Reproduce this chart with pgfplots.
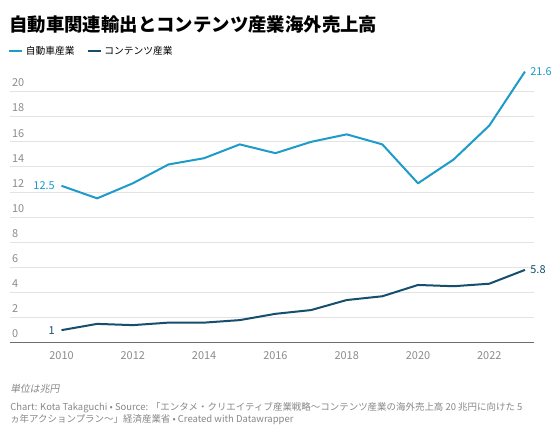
\documentclass[border=0pt]{standalone}
\usepackage{pgfplots}
\pgfplotsset{compat=1.18}
\usepackage{fontspec}
\setmainfont{Noto Sans CJK JP}
\newfontfamily\slantcjk[FakeSlant=0.18]{Noto Sans CJK JP}

\definecolor{autoblue}{HTML}{1D9BC9}
\definecolor{contentnavy}{HTML}{164F6E}
\definecolor{gridgray}{HTML}{E3E3E3}
\definecolor{basegray}{HTML}{6E6E6E}
\definecolor{ticktext}{HTML}{8C8C8C}
\definecolor{notetext}{HTML}{888888}

\newcommand{\fs}[1]{\fontsize{#1}{#1}\selectfont}

\begin{document}
\begin{tikzpicture}[x=0.75pt,y=0.75pt]
  % canvas (1 unit = 1 screen pixel)
  \path[use as bounding box, fill=white] (0,0) rectangle (560,437);

  % title
  \node[anchor=west, inner sep=0pt, font=\bfseries\fs{13.8pt}] at (9,412)
    {自動車関連輸出とコンテンツ産業海外売上高};

  \begin{axis}[
    at={(7.5pt,70.725pt)}, anchor=south west,
    width=393pt, height=207.1pt, scale only axis,
    xmin=2008.555, xmax=2023.254,
    ymin=0, ymax=22,
    clip=false,
    axis line style={draw=none},
    major tick length=0pt,
    xtick={2010,2012,...,2022},
    ytick={2,4,...,20},
    extra y ticks={0},
    extra y tick style={grid style={color=basegray, line width=1.1pt}},
    ymajorgrids,
    grid style={color=gridgray, line width=0.75pt},
    /pgf/number format/assume math mode=true,
    xticklabel style={/pgf/number format/1000 sep={}, font=\fs{8.2pt}, text=ticktext, yshift=-3pt},
    yticklabel style={anchor=south west, font=\fs{8.2pt}, text=ticktext, xshift=-2pt, yshift=0pt},
    legend style={
      at={(-0.004,1.0565)}, anchor=west,
      draw=none, fill=none,
      legend columns=-1,
      font=\fs{7.3pt},
      /tikz/every even column/.append style={column sep=7pt},
      inner sep=0pt,
    },
    legend image code/.code={\draw[#1, line width=1.6pt] (0pt,0pt) -- (9.75pt,0pt);},
  ]
    % automotive-related exports (trillion yen)
    \addplot[autoblue, line width=1.5pt, line join=round] coordinates {
      (2010,12.5) (2011,11.5) (2012,12.7) (2013,14.2) (2014,14.7)
      (2015,15.8) (2016,15.1) (2017,16.0) (2018,16.6) (2019,15.8)
      (2020,12.7) (2021,14.6) (2022,17.3) (2023,21.6)
    }
    node[pos=0, anchor=east, font=\fs{8.2pt}, text=autoblue, xshift=-1pt] {12.5}
    node[pos=1, anchor=west, font=\fs{8.2pt}, text=autoblue, xshift=0pt] {21.6};
    \addlegendentry{自動車産業}

    % overseas sales of content industry (trillion yen)
    \addplot[contentnavy, line width=1.5pt, line join=round] coordinates {
      (2010,1.0) (2011,1.5) (2012,1.4) (2013,1.6) (2014,1.6)
      (2015,1.8) (2016,2.3) (2017,2.6) (2018,3.4) (2019,3.7)
      (2020,4.6) (2021,4.5) (2022,4.7) (2023,5.8)
    }
    node[pos=0, anchor=east, font=\fs{8.2pt}, text=contentnavy, xshift=-1pt] {1}
    node[pos=1, anchor=west, font=\fs{8.2pt}, text=contentnavy, xshift=0pt] {5.8};
    \addlegendentry{コンテンツ産業}
  \end{axis}

  % notes
  \node[anchor=west, inner sep=0pt, text=notetext, font=\slantcjk\fs{7.4pt}] at (10,48)
    {単位は兆円};
  \node[anchor=west, inner sep=0pt, text=notetext, font=\fs{7.1pt}] at (10,29)
    {Chart: Kota Takaguchi • Source: 「エンタメ・クリエイティブ産業戦略〜コンテンツ産業の海外売上高 20 兆円に向けた 5};
  \node[anchor=west, inner sep=0pt, text=notetext, font=\fs{7.1pt}] at (10,17)
    {ヵ年アクションプラン〜」経済産業省 • Created with Datawrapper};
\end{tikzpicture}
\end{document}
